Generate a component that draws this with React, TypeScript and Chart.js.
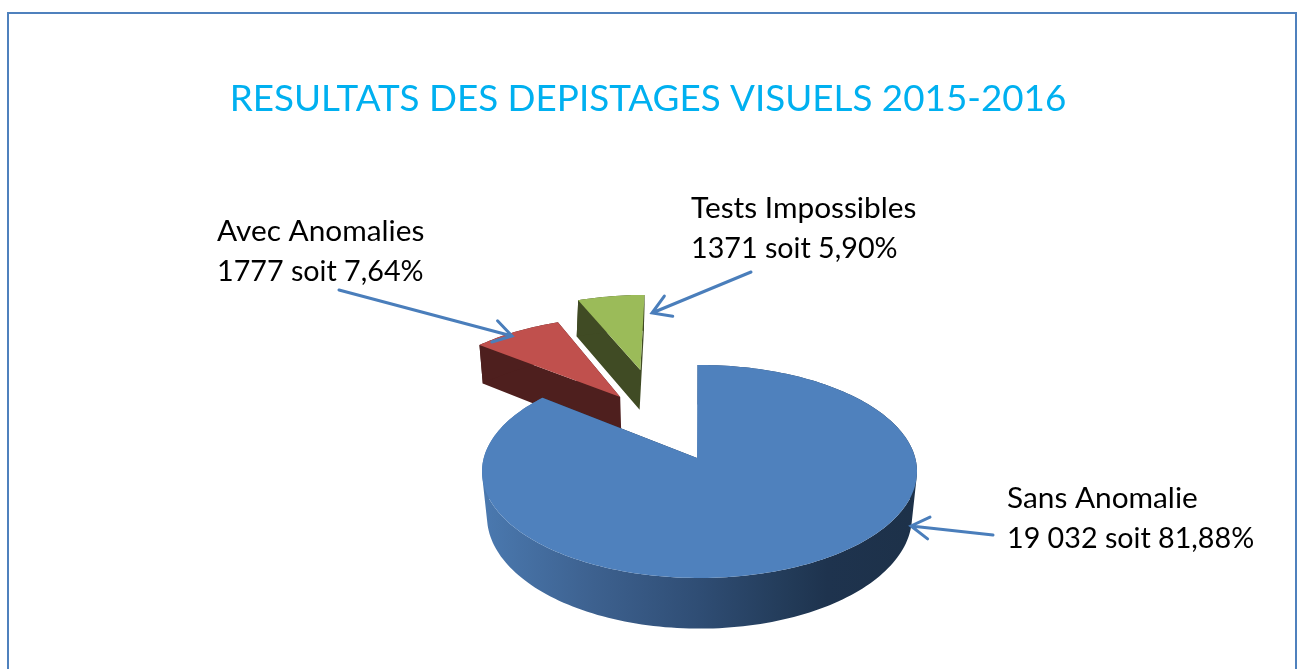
import React, { useEffect, useRef } from "react";
import { Chart, registerables } from "chart.js";

Chart.register(...registerables);

const chartTitle = "RESULTATS DES DEPISTAGES VISUELS 2015-2016";
const categories = ["Sans Anomalie", "Avec Anomalies", "Tests Impossibles"];
const counts = [19032, 1777, 1371];
const countLabels = ["19 032 soit 81,88%", "1777 soit 7,64%", "1371 soit 5,90%"];

const topColours = ["#4F81BD", "#C0504D", "#9BBB59"];
const wallColours = ["#1F3550", "#4E1F1E", "#404B24"];

// 3D view of the pie: a perspective projection of the unit disc on the page
const VIEW = { cx: 699.5, cy: 471.5, rx: 217.5, ry: 106.5, k: -0.127 };
// Explosion of each slice in disc units, the apex nudge and the depth narrowing
const EXPLODE = [
  { u: 0, v: 0, au: -0.0115, av: 0, narrow: 0.977 },
  { u: -0.397, v: -0.629, au: 0, av: 0, narrow: 0.985 },
  { u: -0.307, v: -0.94, au: 0, av: 0, narrow: 1.012 },
];
const LABEL_BOX = [
  { x: 1007, y: 508, tail: [993, 535], tip: [911, 526] },
  { x: 217, y: 241, tail: [339, 290], tip: [512, 336] },
  { x: 691, y: 218, tail: [751, 272], tip: [652, 313] },
];

type P = [number, number];

function project(u: number, v: number): P {
  const { cx, cy, rx, ry, k } = VIEW;
  const w = 1 + k * v;
  const s = Math.sqrt(1 - k * k);
  return [cx + (rx * u * s) / w, cy + (ry * (v + k)) / w];
}

function lower([x, y]: P, narrow: number): P {
  return [VIEW.cx + (x - VIEW.cx) * narrow, y + 38.5 + (y - 345) * 0.052];
}

function tracePoly(ctx: CanvasRenderingContext2D, pts: P[]) {
  // keep one winding so that the polygons of one path add up
  let area = 0;
  pts.forEach((p, i) => {
    const q = pts[(i + 1) % pts.length];
    area += p[0] * q[1] - q[0] * p[1];
  });
  const ordered = area < 0 ? [...pts].reverse() : pts;
  ordered.forEach((p, i) => (i ? ctx.lineTo(p[0], p[1]) : ctx.moveTo(p[0], p[1])));
  ctx.closePath();
}

function fillPolys(ctx: CanvasRenderingContext2D, polys: P[][], fill: string | CanvasGradient) {
  ctx.beginPath();
  polys.forEach((pts) => tracePoly(ctx, pts));
  ctx.fillStyle = fill;
  ctx.fill();
}

const pie3d = {
  id: "pie3d",
  beforeDatasetDraw(chart: any) {
    const ctx: CanvasRenderingContext2D = chart.ctx;
    const arcs = chart.getDatasetMeta(0).data;
    const wallGradient = ctx.createLinearGradient(487, 0, 912, 0);
    wallGradient.addColorStop(0, "#4A78AE");
    wallGradient.addColorStop(0.25, "#3D618F");
    wallGradient.addColorStop(0.5, "#2F4D74");
    wallGradient.addColorStop(0.72, "#223A57");
    wallGradient.addColorStop(0.8, "#1E334E");
    wallGradient.addColorStop(1, "#1D3149");

    [2, 1, 0].forEach((i) => {
      const arc = arcs[i];
      const e = EXPLODE[i];
      const rim: P[] = [];
      const steps = Math.max(12, Math.ceil((arc.endAngle - arc.startAngle) * 40));
      for (let n = 0; n <= steps; n++) {
        const a = arc.startAngle + ((arc.endAngle - arc.startAngle) * n) / steps;
        rim.push(project(Math.cos(a) + e.u, Math.sin(a) + e.v));
      }
      const apex = project(e.u + e.au, e.v + e.av);
      const first = rim[0];
      const last = rim[rim.length - 1];
      const low = (p: P) => lower(p, e.narrow);
      const wall = wallColours[i];
      fillPolys(
        ctx,
        [
          [apex, first, low(first), low(apex)],
          [apex, last, low(last), low(apex)],
        ],
        wall
      );
      const quads: P[][] = [];
      for (let n = 0; n < rim.length - 1; n++) {
        quads.push([rim[n], rim[n + 1], low(rim[n + 1]), low(rim[n])]);
      }
      fillPolys(ctx, quads, i === 0 ? wallGradient : wall);
      fillPolys(ctx, [[apex, ...rim]], topColours[i]);
    });
    return false;
  },
  afterDatasetsDraw(chart: any) {
    const ctx: CanvasRenderingContext2D = chart.ctx;
    ctx.save();
    ctx.strokeStyle = "#4F81BD";
    ctx.lineWidth = 2;
    ctx.strokeRect(8, 13, 1288, 700);

    ctx.strokeStyle = "#4A7EBB";
    ctx.lineCap = "round";
    LABEL_BOX.forEach((box, i) => {
      const [tx, ty] = box.tail;
      const [hx, hy] = box.tip;
      const ang = Math.atan2(hy - ty, hx - tx);
      ctx.lineWidth = 3;
      ctx.beginPath();
      ctx.moveTo(tx, ty);
      ctx.lineTo(hx, hy);
      ctx.moveTo(hx - 21 * Math.cos(ang - 0.55), hy - 21 * Math.sin(ang - 0.55));
      ctx.lineTo(hx, hy);
      ctx.lineTo(hx - 21 * Math.cos(ang + 0.55), hy - 21 * Math.sin(ang + 0.55));
      ctx.stroke();

      ctx.fillStyle = "#000000";
      ctx.textAlign = "left";
      ctx.textBaseline = "alphabetic";
      ctx.font = "29.8px Lato";
      ctx.fillText(categories[i], box.x, box.y);
      ctx.font = "28.7px Lato";
      ctx.fillText(countLabels[i], box.x, box.y + 40);
    });
    ctx.restore();
  },
};

export default function App() {
  const ref = useRef<HTMLCanvasElement>(null);
  useEffect(() => {
    const chart = new Chart(ref.current as HTMLCanvasElement, {
      type: "pie",
      data: {
        labels: categories,
        datasets: [{ data: counts, backgroundColor: topColours, borderWidth: 0 }],
      },
      options: {
        animation: false,
        responsive: false,
        rotation: -0.6,
        layout: { padding: { top: 77, right: 5, bottom: 10, left: 0 } },
        plugins: {
          legend: { display: false },
          tooltip: { enabled: false },
          title: {
            display: true,
            text: chartTitle,
            color: "#00B0F0",
            font: { family: "Lato", size: 36.8, weight: "normal" },
            padding: { top: 0, bottom: 20 },
          },
        },
      },
      plugins: [pie3d],
    } as any);
    return () => chart.destroy();
  }, []);
  return (
    <div style={{ position: "fixed", left: 0, top: 0, width: 1301, height: 669, background: "#fff", overflow: "hidden" }}>
      <canvas ref={ref} width={1301} height={669} style={{ display: "block" }} />
    </div>
  );
}
